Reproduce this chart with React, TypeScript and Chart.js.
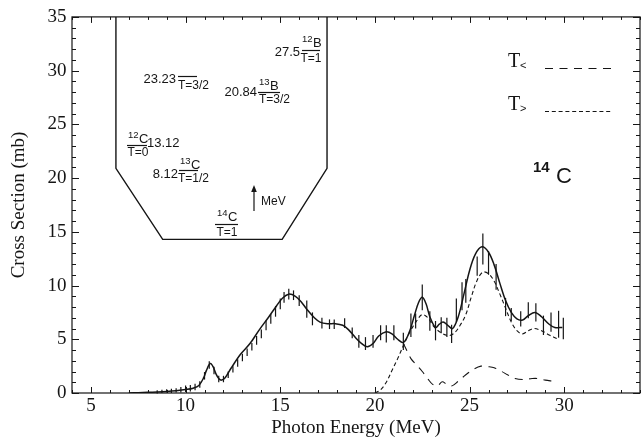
import React, { useEffect, useRef } from "react";
import { Chart, registerables } from "chart.js";

Chart.register(...registerables);

// Axis tick values
const xTicks = [5, 10, 15, 20, 25, 30];
const yTicks = [0, 5, 10, 15, 20, 25, 30, 35];

// Total fitted cross section [energy MeV, sigma mb]
const fitTotal: [number, number][] = [
  [7.0, 0], [7.5, 0.03], [8, 0.06], [8.5, 0.1], [9, 0.15], [9.5, 0.22], [10, 0.32],
  [10.4, 0.45], [10.7, 0.7], [10.95, 1.4], [11.1, 2.1], [11.3, 2.75], [11.45, 2.45],
  [11.6, 1.8], [11.75, 1.35], [11.9, 1.2], [12.1, 1.45], [12.4, 2.3], [12.9, 3.6],
  [13.4, 4.6], [13.9, 5.9], [14.4, 7.1], [14.8, 8.1], [15.1, 8.8], [15.45, 9.2],
  [15.8, 9.0], [16.1, 8.5], [16.4, 7.8], [16.8, 7.0], [17.1, 6.6], [17.5, 6.45],
  [17.9, 6.45], [18.3, 6.3], [18.6, 5.9], [19.0, 5.1], [19.3, 4.6], [19.6, 4.3],
  [19.9, 4.6], [20.2, 5.3], [20.6, 5.7], [20.9, 5.5], [21.2, 5.0], [21.5, 4.7],
  [21.8, 5.6], [22.1, 7.3], [22.3, 8.4], [22.5, 8.9], [22.7, 8.3], [22.9, 7.1],
  [23.2, 6.1], [23.4, 6.4], [23.6, 6.6], [23.85, 6.3], [24.1, 6.0], [24.4, 7.1],
  [24.7, 9.2], [25.0, 11.4], [25.3, 12.9], [25.65, 13.6], [26.0, 13.1], [26.3, 11.9],
  [26.6, 10.2], [26.9, 8.6], [27.2, 7.5], [27.5, 6.9], [27.8, 6.8], [28.1, 7.2],
  [28.45, 7.5], [28.8, 7.1], [29.2, 6.4], [29.5, 6.1], [29.9, 6.1],
];

// T> component
const fitTGreater: [number, number][] = [
  [20.0, 0], [20.3, 0.3], [20.6, 1.0], [20.9, 2.1], [21.2, 3.2], [21.5, 4.4],
  [21.85, 5.7], [22.2, 6.7], [22.5, 7.3], [22.8, 7.0], [23.1, 6.2], [23.5, 5.6],
  [23.9, 5.35], [24.2, 5.6], [24.5, 6.3], [24.8, 7.3], [25.1, 9.0], [25.4, 10.5],
  [25.7, 11.25], [26.0, 11.1], [26.3, 10.4], [26.6, 9.2], [26.9, 7.9], [27.2, 6.6],
  [27.5, 5.8], [27.8, 5.5], [28.1, 5.8], [28.4, 6.0], [28.8, 5.8], [29.2, 5.4],
  [29.7, 5.0],
];

// T< component
const fitTLess: [number, number][] = [
  [21.5, 4.6], [21.7, 3.9], [21.9, 3.2], [22.2, 2.6], [22.5, 2.0], [22.8, 1.3],
  [23.05, 0.8], [23.3, 0.65], [23.55, 1.05], [23.8, 0.8], [24.05, 0.65], [24.4, 1.1],
  [24.8, 1.7], [25.2, 2.2], [25.6, 2.5], [26.0, 2.45], [26.3, 2.35], [26.7, 2.0],
  [27.0, 1.7], [27.4, 1.35], [27.8, 1.25], [28.3, 1.35], [28.6, 1.35], [29.0, 1.2],
  [29.4, 1.1],
];

// Measured points [energy MeV, sigma mb, error mb]
const measured: [number, number, number][] = [
  [8.5, 0.1, 0.15], [8.75, 0.15, 0.15], [9.0, 0.2, 0.15], [9.25, 0.2, 0.2],
  [9.5, 0.25, 0.2], [9.75, 0.3, 0.25], [10.0, 0.4, 0.3], [10.25, 0.45, 0.3],
  [10.5, 0.55, 0.3], [10.75, 0.8, 0.3], [11.0, 1.6, 0.35], [11.25, 2.6, 0.35],
  [11.5, 2.1, 0.35], [11.75, 1.3, 0.3], [12.0, 1.3, 0.3], [12.25, 1.7, 0.3],
  [12.5, 2.2, 0.3], [12.75, 2.8, 0.35], [13.0, 3.3, 0.35], [13.25, 3.8, 0.35],
  [13.5, 4.3, 0.35], [13.75, 4.9, 0.4], [14.0, 5.5, 0.4], [14.25, 6.3, 0.45],
  [14.5, 6.9, 0.45], [14.75, 7.6, 0.5], [15.0, 8.3, 0.5], [15.2, 8.9, 0.5],
  [15.45, 9.2, 0.5], [15.7, 9.1, 0.45], [16.0, 8.6, 0.5], [16.4, 7.8, 0.8],
  [16.7, 6.9, 0.6], [17.2, 6.5, 0.5], [17.6, 6.4, 0.45], [17.85, 6.4, 0.45],
  [18.4, 6.5, 0.45], [18.8, 5.6, 0.5], [19.15, 4.8, 0.6], [19.5, 4.6, 0.6],
  [19.9, 4.8, 0.6], [20.3, 5.6, 0.7], [20.6, 5.5, 0.8], [21.0, 5.6, 0.7],
  [21.5, 4.8, 0.8], [21.9, 6.3, 1.1], [22.15, 6.7, 0.7], [22.5, 8.9, 1.2],
  [22.9, 6.7, 0.9], [23.2, 5.8, 0.9], [23.5, 6.3, 0.75], [23.8, 6.1, 0.9],
  [24.05, 5.5, 0.85], [24.3, 7.7, 1.1], [24.6, 9.0, 1.3], [24.8, 9.5, 1.1],
  [25.4, 11.8, 0.9], [25.7, 13.4, 1.45], [26.0, 12.1, 1.1], [26.4, 10.8, 1.2],
  [26.9, 8.0, 0.85], [27.2, 7.3, 0.6], [27.7, 6.9, 0.7], [28.1, 7.7, 0.75],
  [28.5, 7.5, 0.85], [28.9, 6.3, 0.9], [29.3, 6.6, 0.9], [29.7, 6.4, 1.25],
  [29.95, 6.0, 1.0],
];

// Outline of the level-scheme inset, in axis units
const insetOutline: [number, number][] = [
  [6.32, 35], [6.32, 20.9], [8.79, 14.3], [15.1, 14.3], [17.47, 20.9], [17.47, 35],
];

const INK = "#151515";
const SERIF = '"Liberation Serif", "Times New Roman", serif';
const SANS = '"Liberation Sans", Arial, sans-serif';

const toXY = (arr: [number, number][]) => arr.map(([x, y]) => ({ x, y }));

function text(
  ctx: CanvasRenderingContext2D,
  s: string,
  x: number,
  y: number,
  font: string,
  align: CanvasTextAlign = "left",
  baseline: CanvasTextBaseline = "middle"
) {
  ctx.font = font;
  ctx.textAlign = align;
  ctx.textBaseline = baseline;
  ctx.fillText(s, x, y);
}

function hline(ctx: CanvasRenderingContext2D, x0: number, x1: number, y: number) {
  ctx.beginPath();
  ctx.moveTo(x0, y);
  ctx.lineTo(x1, y);
  ctx.stroke();
}

function nuclide(ctx: CanvasRenderingContext2D, mass: string, sym: string, x: number, yMid: number) {
  text(ctx, mass, x, yMid - 3, `9.5px ${SANS}`);
  const w = ctx.measureText(mass).width;
  text(ctx, sym, x + w + 0.5, yMid + 1, `13px ${SANS}`);
}

const errorBarPlugin = {
  id: "errorBars",
  afterDatasetsDraw(chart: any) {
    const { ctx, scales } = chart;
    const xs = scales.x;
    const ys = scales.y;
    ctx.save();
    ctx.strokeStyle = INK;
    ctx.lineWidth = 1.2;
    for (const [e, s, err] of measured) {
      const px = xs.getPixelForValue(e);
      ctx.beginPath();
      ctx.moveTo(px, ys.getPixelForValue(s - err));
      ctx.lineTo(px, ys.getPixelForValue(s + err));
      ctx.stroke();
    }
    ctx.restore();
  },
};

const frameTicksPlugin = {
  id: "frameTicks",
  afterDraw(chart: any) {
    const { ctx, chartArea: a, scales } = chart;
    const xs = scales.x;
    const ys = scales.y;
    ctx.save();
    ctx.strokeStyle = INK;
    ctx.lineWidth = 1.2;
    ctx.strokeRect(a.left, a.top, a.right - a.left, a.bottom - a.top);
    ctx.lineWidth = 1;
    ctx.beginPath();
    for (let v = Math.ceil(xs.min); v <= xs.max; v++) {
      const px = Math.round(xs.getPixelForValue(v)) + 0.5;
      const len = v % 5 === 0 ? 6 : 3;
      ctx.moveTo(px, a.bottom);
      ctx.lineTo(px, a.bottom - len);
      ctx.moveTo(px, a.top);
      ctx.lineTo(px, a.top + len);
    }
    for (let v = Math.ceil(ys.min); v <= ys.max; v++) {
      const py = Math.round(ys.getPixelForValue(v)) + 0.5;
      const len = v % 5 === 0 ? 7 : 4;
      ctx.moveTo(a.left, py);
      ctx.lineTo(a.left + len, py);
      ctx.moveTo(a.right, py);
      ctx.lineTo(a.right - len, py);
    }
    ctx.stroke();
    ctx.restore();
  },
};

const annotationPlugin = {
  id: "levelScheme",
  afterDraw(chart: any) {
    const { ctx, scales } = chart;
    const xs = scales.x;
    const ys = scales.y;
    ctx.save();
    ctx.strokeStyle = INK;
    ctx.fillStyle = INK;

    // inset outline
    ctx.lineWidth = 1.4;
    ctx.beginPath();
    insetOutline.forEach(([x, y], i) => {
      const px = xs.getPixelForValue(x);
      const py = ys.getPixelForValue(y);
      if (i === 0) ctx.moveTo(px, py);
      else ctx.lineTo(px, py);
    });
    ctx.stroke();

    ctx.lineWidth = 1.2;
    const num = `13px ${SANS}`;
    const iso = `12px ${SANS}`;

    // 12B, T=1
    text(ctx, "27.5", 300, 52, num, "right");
    nuclide(ctx, "12", "B", 302, 42);
    hline(ctx, 302, 320, 50.5);
    text(ctx, "T=1", 311, 58.5, iso, "center");

    // T=3/2 level at 23.23
    text(ctx, "23.23", 176, 79, num, "right");
    hline(ctx, 178, 197, 76.5);
    text(ctx, "T=3/2", 178, 85.5, iso);

    // 13B, T=3/2
    text(ctx, "20.84", 257, 92, num, "right");
    nuclide(ctx, "13", "B", 259, 85);
    hline(ctx, 258, 280, 92.5);
    text(ctx, "T=3/2", 259, 100, iso);

    // 12C, T=0
    nuclide(ctx, "12", "C", 128, 138);
    hline(ctx, 127, 147, 145.5);
    text(ctx, "T=0", 127.5, 153, iso);
    text(ctx, "13.12", 147, 143, num);

    // 13C, T=1/2
    text(ctx, "8.12", 178, 174, num, "right");
    nuclide(ctx, "13", "C", 180, 164.5);
    hline(ctx, 179, 198, 170.5);
    text(ctx, "T=1/2", 178, 179, iso);

    // energy arrow
    ctx.beginPath();
    ctx.moveTo(254, 211);
    ctx.lineTo(254, 189);
    ctx.stroke();
    ctx.beginPath();
    ctx.moveTo(254, 185);
    ctx.lineTo(251.2, 192);
    ctx.lineTo(256.8, 192);
    ctx.closePath();
    ctx.fill();
    text(ctx, "MeV", 261, 201.5, iso);

    // 14C ground state, T=1
    nuclide(ctx, "14", "C", 217, 216);
    hline(ctx, 215, 238, 224.5);
    text(ctx, "T=1", 227, 232.5, iso, "center");

    // legend
    text(ctx, "T", 508, 67, `20px ${SERIF}`, "left", "alphabetic");
    text(ctx, "<", 520, 66, `11px ${SANS}`);
    text(ctx, "T", 508, 110, `20px ${SERIF}`, "left", "alphabetic");
    text(ctx, ">", 520, 109, `11px ${SANS}`);
    ctx.lineWidth = 1;
    ctx.setLineDash([8, 6.5]);
    hline(ctx, 545, 614, 68.5);
    ctx.setLineDash([4, 2.8]);
    hline(ctx, 545, 611, 111.5);
    ctx.setLineDash([]);

    // nucleus label
    text(ctx, "14", 533, 168, `bold 15px ${SANS}`);
    text(ctx, "C", 556, 177, `22px ${SANS}`);

    ctx.restore();
  },
};

export default function App() {
  const canvasRef = useRef<HTMLCanvasElement | null>(null);

  useEffect(() => {
    const canvas = canvasRef.current;
    if (!canvas) return;
    const tickFont = { family: SERIF, size: 19 };
    const chart = new Chart(canvas, {
      type: "scatter",
      data: {
        datasets: [
          {
            label: "total",
            data: toXY(fitTotal),
            showLine: true,
            borderColor: INK,
            borderWidth: 1.5,
            pointRadius: 0,
            tension: 0.35,
          },
          {
            label: "T>",
            data: toXY(fitTGreater),
            showLine: true,
            borderColor: INK,
            borderWidth: 1.1,
            borderDash: [4, 2.8],
            pointRadius: 0,
            tension: 0.35,
          },
          {
            label: "T<",
            data: toXY(fitTLess),
            showLine: true,
            borderColor: INK,
            borderWidth: 1.1,
            borderDash: [8, 6.5],
            pointRadius: 0,
            tension: 0.35,
          },
          {
            label: "data",
            data: measured.map(([x, y]) => ({ x, y })),
            showLine: false,
            pointRadius: 0,
          },
        ],
      },
      options: {
        responsive: false,
        animation: false,
        layout: { padding: { left: 0, right: 4, top: 13, bottom: 0 } },
        plugins: { legend: { display: false }, tooltip: { enabled: false } },
        scales: {
          x: {
            type: "linear",
            min: 4,
            max: 34,
            afterBuildTicks: (axis: any) => {
              axis.ticks = xTicks.map((v) => ({ value: v }));
            },
            afterFit: (s: any) => {
              s.height = 47;
            },
            grid: { display: false, drawTicks: false },
            border: { display: false },
            ticks: { padding: 2, color: INK, font: tickFont, maxRotation: 0 },
            title: {
              display: true,
              text: "Photon Energy (MeV)",
              color: INK,
              font: { family: SERIF, size: 19 },
              padding: { top: 0, bottom: 1 },
            },
          },
          y: {
            type: "linear",
            min: 0,
            max: 35,
            afterBuildTicks: (axis: any) => {
              axis.ticks = yTicks.map((v) => ({ value: v }));
            },
            afterFit: (s: any) => {
              s.width = 72;
            },
            grid: { display: false, drawTicks: false },
            border: { display: false },
            ticks: { padding: 5.5, color: INK, font: tickFont },
            title: {
              display: true,
              text: "Cross Section (mb)",
              color: INK,
              font: { family: SERIF, size: 19 },
              padding: { top: 8, bottom: 0 },
            },
          },
        },
      },
      plugins: [errorBarPlugin, frameTicksPlugin, annotationPlugin],
    });
    return () => chart.destroy();
  }, []);

  return (
    <div style={{ position: "fixed", left: 0, top: 0, width: 644, height: 440, background: "#fff" }}>
      <canvas ref={canvasRef} width={644} height={440} style={{ display: "block" }} />
    </div>
  );
}
